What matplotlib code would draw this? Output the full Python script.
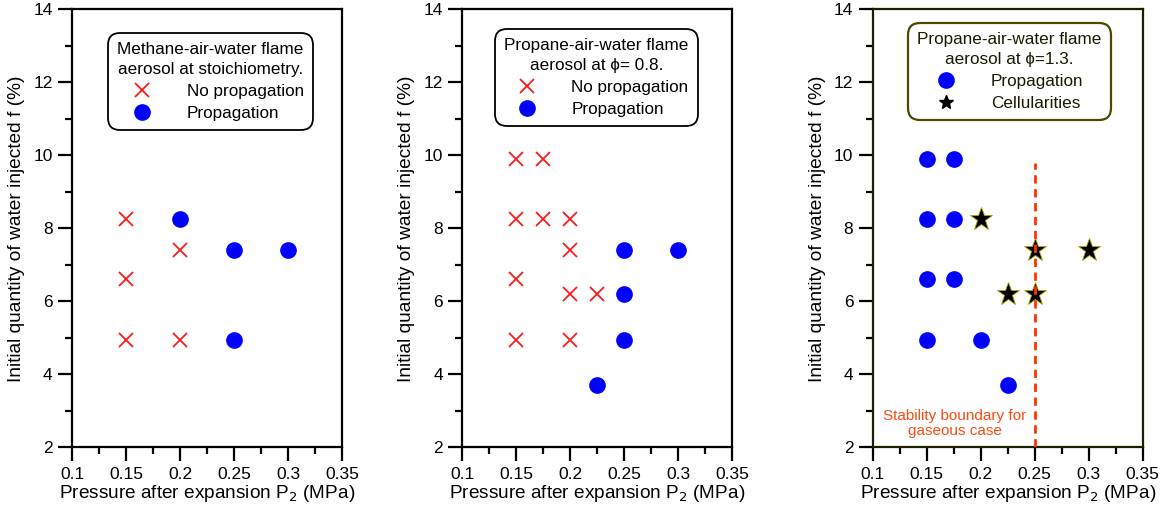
import matplotlib
matplotlib.use("Agg")
import matplotlib.pyplot as plt
from matplotlib.lines import Line2D

plt.rcParams["font.family"] = ["Liberation Sans", "DejaVu Sans"]

# panel 1: methane, stoichiometric
m_nop_p = [0.15, 0.15, 0.15, 0.2, 0.2]
m_nop_f = [8.25, 6.6, 4.95, 7.4, 4.95]
m_prop_p = [0.2, 0.25, 0.3, 0.25]
m_prop_f = [8.25, 7.4, 7.4, 4.95]

# panel 2: propane, phi = 0.8
p08_nop_p = [0.15, 0.175, 0.15, 0.175, 0.2, 0.2, 0.15, 0.2, 0.225, 0.15, 0.2]
p08_nop_f = [9.9, 9.9, 8.25, 8.25, 8.25, 7.4, 6.6, 6.2, 6.2, 4.95, 4.95]
p08_prop_p = [0.25, 0.3, 0.25, 0.25, 0.225]
p08_prop_f = [7.4, 7.4, 6.2, 4.95, 3.7]

# panel 3: propane, phi = 1.3
p13_prop_p = [0.15, 0.175, 0.15, 0.175, 0.15, 0.175, 0.15, 0.2, 0.225]
p13_prop_f = [9.9, 9.9, 8.25, 8.25, 6.6, 6.6, 4.95, 4.95, 3.7]
p13_cell_p = [0.2, 0.25, 0.3, 0.225, 0.25]
p13_cell_f = [8.25, 7.4, 7.4, 6.2, 6.2]
boundary_p = 0.25
boundary_f = [2.0, 9.8]

xlabel = "Pressure after expansion P$_2$ (MPa)"
ylabel = "Initial quantity of water injected f (%)"
xticks = [0.1, 0.15, 0.2, 0.25, 0.3, 0.35]
xtick_labels = ["0.1", "0.15", "0.2", "0.25", "0.3", "0.35"]
yticks = [2, 4, 6, 8, 10, 12, 14]

fig = plt.figure(figsize=(11.71, 5.18), dpi=100)
lefts = [0.0615, 0.3948, 0.7453]
axes = [fig.add_axes([l, 0.1365, 0.2305, 0.8455]) for l in lefts]


def style(ax):
    ax.set_xlim(0.1, 0.35)
    ax.set_ylim(2, 14)
    ax.set_xticks(xticks)
    ax.set_xticklabels(xtick_labels)
    ax.set_xticks([0.125, 0.175, 0.225, 0.275, 0.325], minor=True)
    ax.set_yticks(yticks)
    ax.set_yticks([3, 5, 7, 9, 11, 13], minor=True)
    ax.tick_params(which="major", direction="out", length=10, width=1.6,
                   labelsize=12.5, pad=4)
    ax.tick_params(which="minor", direction="out", length=5, width=1.6)
    for s in ax.spines.values():
        s.set_linewidth(1.6)
    ax.set_xlabel(xlabel, fontsize=13.7, labelpad=1)
    ax.set_ylabel(ylabel, fontsize=13.8, labelpad=6)


def finish_legend(leg, edge, lw):
    leg.get_title().set_multialignment("center")
    leg.get_title().set_linespacing(1.4)
    fr = leg.get_frame()
    fr.set_edgecolor(edge)
    fr.set_linewidth(lw)
    fr.set_boxstyle("round,pad=0,rounding_size=0.7")


cross = dict(marker="x", color="#ff1a1a", linestyle="none", markersize=10,
             markeredgewidth=1.3)
dot = dict(marker="o", color="#0000ff", linestyle="none", markersize=11)
star = dict(marker="*", markerfacecolor="black", markeredgecolor="#a8a800",
            markeredgewidth=0.6, linestyle="none", markersize=17)

leg_kw = dict(loc="upper center", fontsize=12.3, title_fontsize=12.3,
              frameon=True, fancybox=True, framealpha=1, handletextpad=2.0,
              borderpad=0.55, labelspacing=0.4, handlelength=1.2,
              borderaxespad=0)

# panel 1
ax = axes[0]
style(ax)
ax.plot(m_nop_p, m_nop_f, **cross)
ax.plot(m_prop_p, m_prop_f, **dot)
h = [Line2D([], [], **cross), Line2D([], [], **dot)]
leg = ax.legend(h, ["No propagation", "Propagation"],
                title="Methane-air-water flame\naerosol at stoichiometry.",
                bbox_to_anchor=(0.513, 0.946), alignment="right", **leg_kw)
finish_legend(leg, "black", 1.3)

# panel 2
ax = axes[1]
style(ax)
ax.plot(p08_nop_p, p08_nop_f, **cross)
ax.plot(p08_prop_p, p08_prop_f, **dot)
leg = ax.legend(h, ["No propagation", "Propagation"],
                title="Propane-air-water flame\naerosol at \u03d5= 0.8.",
                bbox_to_anchor=(0.496, 0.955), alignment="right", **leg_kw)
finish_legend(leg, "black", 1.3)

# panel 3
ax = axes[2]
style(ax)
ax.plot(p13_prop_p, p13_prop_f, **dot)
ax.plot(p13_cell_p, p13_cell_f, **star)
ax.plot([boundary_p, boundary_p], boundary_f, color="#ff3300", linewidth=2,
        linestyle=(0, (3, 2)), zorder=4)
ax.text(0.176, 2.64, "Stability boundary for\ngaseous case", color="#ff4a10",
        fontsize=11, ha="center", va="center", linespacing=1.1)
for s in ax.spines.values():
    s.set_edgecolor("#1e1e00")
h3 = [Line2D([], [], **dot),
      Line2D([], [], marker="*", color="black", linestyle="none", markersize=10)]
leg = ax.legend(h3, ["Propagation", "Cellularities"],
                title="Propane-air-water flame\naerosol at \u03d5=1.3.",
                bbox_to_anchor=(0.507, 0.969), **leg_kw)
finish_legend(leg, "#4a4a00", 1.6)
for t in leg.get_texts() + [leg.get_title()]:
    t.set_color("#1a1a00")

fig.savefig("out.png", dpi=100)
